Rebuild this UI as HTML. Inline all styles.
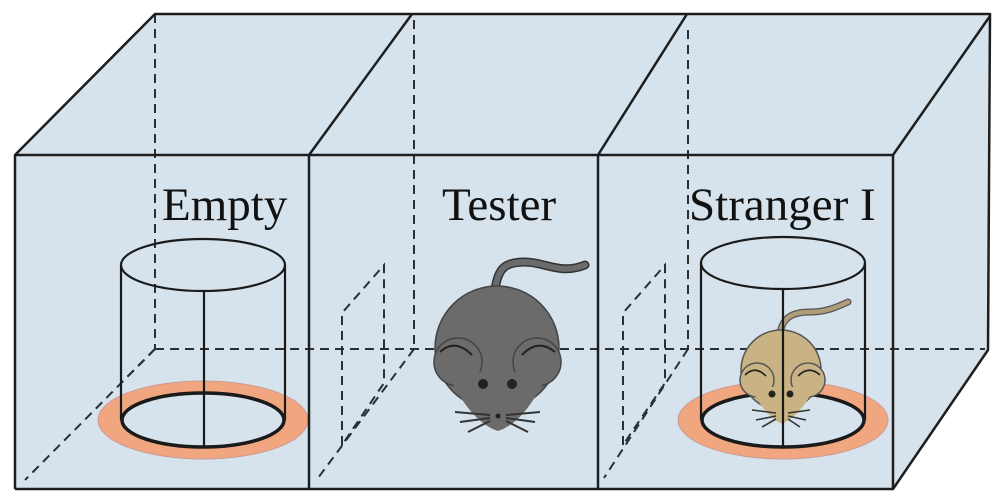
<!DOCTYPE html>
<html><head><meta charset="utf-8"><style>
html,body{margin:0;padding:0;background:#fff;}
svg{display:block}
text{font-family:"Liberation Serif",serif;font-size:47px;fill:#111}
</style></head><body>
<svg width="1000" height="500" viewBox="0 0 1000 500" xmlns="http://www.w3.org/2000/svg">
<polygon points="15,155 155,14 990,14 988,350 893,489 15,489" fill="#d6e3ec"/>
<g fill="none" stroke="#2a2f33" stroke-width="2" stroke-dasharray="9,6">
<line x1="155" y1="14" x2="155" y2="349"/>
<line x1="414" y1="20" x2="414" y2="349"/>
<line x1="688" y1="30" x2="688" y2="349"/>
<line x1="155" y1="349" x2="985" y2="349"/>
<line x1="155" y1="349" x2="25" y2="480"/>
<line x1="414" y1="349" x2="318" y2="478"/>
<line x1="688" y1="349" x2="604" y2="478"/>
<polyline points="342,445 342,313 384,265 384,383 342,445"/>
<polyline points="623,445 623,313 665,265 665,383 623,445"/>
</g>
<!-- rings -->
<ellipse cx="203" cy="420" rx="105" ry="39" fill="#f0a67e" stroke="#c99" stroke-width="1"/>
<ellipse cx="203" cy="420" rx="81" ry="27" fill="#d6e3ec"/>
<ellipse cx="783" cy="420" rx="105" ry="39" fill="#f0a67e" stroke="#c99" stroke-width="1"/>
<ellipse cx="783" cy="420" rx="81" ry="27" fill="#d6e3ec"/>
<g fill="none" stroke="#1a1a1a" stroke-width="2.2">
<line x1="155" y1="349" x2="125" y2="379" stroke-dasharray="9,6" stroke="#2a2f33" stroke-width="2"/>
<ellipse cx="203" cy="420" rx="81" ry="27" stroke-width="3.5"/>
<ellipse cx="203" cy="265" rx="82" ry="26"/>
<line x1="121" y1="265" x2="121" y2="420"/>
<line x1="285" y1="265" x2="285" y2="420"/>
<line x1="204" y1="291" x2="204" y2="447"/>
<ellipse cx="783" cy="420" rx="81" ry="27" stroke-width="3.5"/>
<ellipse cx="783" cy="263" rx="82" ry="26"/>
<line x1="701" y1="263" x2="701" y2="420"/>
<line x1="865" y1="263" x2="865" y2="420"/>
</g>
<!-- gray mouse -->
<path d="M495,290 C498,268 505,262 525,262 C545,262 560,275 585,265" fill="none" stroke="#333" stroke-width="9" stroke-linecap="round"/>
<path d="M495,290 C498,268 505,262 525,262 C545,262 560,275 585,265" fill="none" stroke="#6b6b6b" stroke-width="6" stroke-linecap="round"/>
<g fill="#6b6b6b" stroke="#444" stroke-width="1.5">
<circle cx="497" cy="348" r="62"/>
<circle cx="458" cy="362" r="24"/>
<circle cx="537" cy="362" r="24"/>
</g>
<path d="M447,372 Q470,422 498,431 Q526,422 548,372 Z" fill="#6b6b6b"/>
<path d="M440,352 Q455,338 472,355 M522,355 Q538,338 555,352" fill="none" stroke="#222" stroke-width="2"/>
<circle cx="483" cy="384" r="5" fill="#222"/><circle cx="512" cy="384" r="5" fill="#222"/>
<circle cx="498" cy="416" r="2.5" fill="#222"/>
<g stroke="#333" stroke-width="2" fill="none">
<path d="M490,415 L455,412 M490,418 L460,422 M490,421 L468,432"/>
<path d="M506,415 L540,412 M506,418 L535,422 M506,421 L528,432"/>
</g>
<!-- tan mouse -->
<path d="M780,334 C782,318 792,312 810,312 C825,312 835,308 848,302" fill="none" stroke="#555" stroke-width="7" stroke-linecap="round"/>
<path d="M780,334 C782,318 792,312 810,312 C825,312 835,308 848,302" fill="none" stroke="#b09d78" stroke-width="4.5" stroke-linecap="round"/>
<g fill="#c9b283" stroke="#555" stroke-width="1.5">
<circle cx="781" cy="370" r="40"/>
<circle cx="757" cy="380" r="17"/>
<circle cx="808" cy="380" r="17"/>
</g>
<path d="M750,387 Q765,416 782,424 Q800,416 815,387 Z" fill="#c9b283"/>
<path d="M745,375 Q755,365 766,376 M798,376 Q809,365 820,375" fill="none" stroke="#222" stroke-width="1.6"/>
<circle cx="772" cy="394" r="3.5" fill="#222"/><circle cx="790" cy="394" r="3.5" fill="#222"/>
<g stroke="#333" stroke-width="1.6" fill="none">
<path d="M776,413 L752,410 M776,416 L756,420 M776,419 L762,427"/>
<path d="M788,413 L810,410 M788,416 L806,420 M788,419 L800,427"/>
</g>
<line x1="783" y1="289" x2="783" y2="446" stroke="#1a1a1a" stroke-width="2.2"/>
<g fill="none" stroke="#1e1e1e" stroke-width="2.5" stroke-linejoin="round">
<polyline points="15,489 15,155 155,14 990,14 988,350 893,489 15,489"/>
<line x1="15" y1="155" x2="893" y2="155"/>
<line x1="893" y1="155" x2="893" y2="489"/>
<line x1="893" y1="155" x2="990" y2="16"/>
<line x1="309" y1="155" x2="309" y2="489"/>
<line x1="309" y1="155" x2="412" y2="14"/>
<line x1="598" y1="155" x2="598" y2="489"/>
<line x1="598" y1="155" x2="687" y2="14"/>
</g>
<text x="162" y="220">Empty</text>
<text x="442" y="220">Tester</text>
<text x="689" y="220">Stranger I</text>
</svg>
</body></html>
